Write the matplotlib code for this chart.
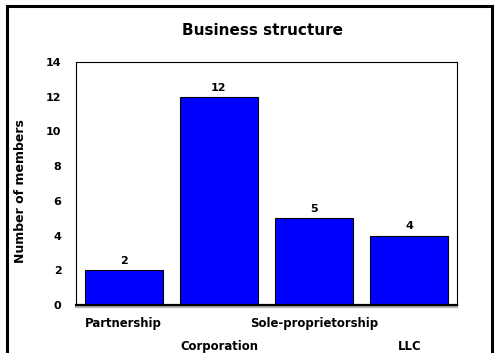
import matplotlib
matplotlib.use("Agg")
import matplotlib.pyplot as plt
import matplotlib.patheffects as pe
from matplotlib.patches import Rectangle

plt.rcParams['font.family'] = ['DejaVu Sans']
plt.rcParams['font.weight'] = 'bold'

# Members per business structure
categories = ['Partnership', 'Corporation', 'Sole-proprietorship', 'LLC']
members = [2, 12, 5, 4]
yticks = [0, 2, 4, 6, 8, 10, 12, 14]

W, H = 498, 353
fig = plt.figure(figsize=(W / 100, H / 100), dpi=100)
ax = fig.add_axes([76 / W, 1 - 305 / H, (457 - 76) / W, (305 - 62) / H])

x = range(len(categories))
bars = ax.bar(x, members, width=0.82, color='#0000ff', edgecolor='black', linewidth=0.8)
ax.bar_label(bars, labels=[str(v) for v in members], padding=3, fontsize=8, fontweight='bold')

ax.set_xlim(-0.5, 3.5)
ax.set_ylim(0, 14)
ax.set_yticks(yticks)
ax.set_yticklabels([str(t) for t in yticks], fontsize=8, fontweight='bold')
ax.tick_params(axis='y', length=0, pad=10.5)
ax.set_xticks([])

# staggered category names below the axis (offsets in points)
for i, name in enumerate(categories):
    ypos = -15.8 if i % 2 == 0 else -32.4
    ax.annotate(name, xy=(i, 0), xycoords='data', xytext=(0, ypos),
                textcoords='offset points', ha='center', va='baseline',
                fontsize=8.4, fontweight='bold')

for s in ['left', 'right', 'top']:
    ax.spines[s].set_linewidth(0.8)
ax.spines['bottom'].set_linewidth(1.6)
ax.spines['bottom'].set_path_effects([pe.SimpleLineShadow(offset=(0, -1.2), shadow_color='gray', alpha=0.6),
                                      pe.Normal()])

ax.set_ylabel('Number of members', fontsize=9, fontweight='bold')
ax.yaxis.set_label_coords(-49 / (457 - 76), (305 - 191) / (305 - 62))

fig.text(262 / W, 1 - 30.5 / H, 'Business structure', ha='center', va='center',
         fontsize=11, fontweight='bold')

# outer frame around the figure
fig.patches.append(Rectangle((6.5 / W, -0.1), (492 - 6.5) / W, 1.1 - 6.5 / H,
                             transform=fig.transFigure, fill=False,
                             edgecolor='black', linewidth=2.2))

fig.savefig('out.png', dpi=100)
